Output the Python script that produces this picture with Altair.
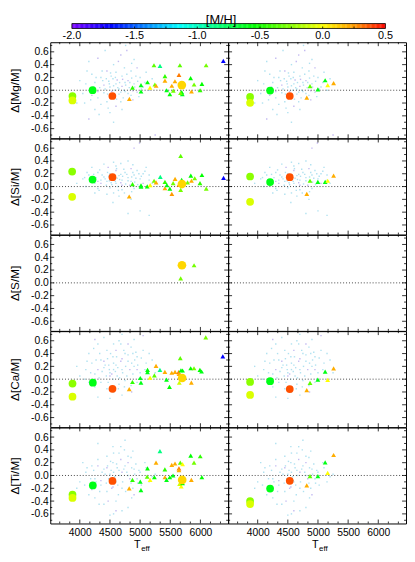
import altair as alt
import pandas as pd

# ------------------------------------------------------------------ data
ELEMENTS = ['Mg', 'Si', 'S', 'Ca', 'Ti']

X_LABELS = [4000, 4500, 5000, 5500, 6000]
X_MINOR = [3667, 3833, 4167, 4333, 4667, 4833, 5167, 5333, 5667, 5833, 6167, 6333]
Y_LABELS = [-0.6, -0.4, -0.2, 0.0, 0.2, 0.4, 0.6]
Y_MINOR = [-0.7, -0.5, -0.3, -0.1, 0.1, 0.3, 0.5, 0.7]

CB_LABEL_V = [-2.0, -1.5, -1.0, -0.5, 0.0, 0.5]
CB_LABEL_T = ['-2.0', '-1.5', '-1.0', '-0.5', '0.0', '0.5']
CB_TICKS = [-1.75, -1.5, -1.25, -1.0, -0.75, -0.5, -0.25, 0.0, 0.25]
CB_STOPS = [-2.0, -1.7, -1.15, -0.55, 0.0, 0.25, 0.5]
CB_COLORS = ['#7a00ff', '#0000ff', '#00ffff', '#00ff00', '#ffff00', '#ff9900', '#ff0000']

# background stars (Teff, delta, flag 0 = cyan, 1 = lavender)
DOTS_MG = [(4150,0.45,0),(4300,0.50,1),(4420,0.62,0),(4680,0.55,1),(4760,0.70,0),(4900,0.48,0),
           (4950,0.35,1),(4200,0.25,0),(4350,0.20,0),(4450,0.30,1),(4550,0.18,0),(4600,0.28,0),
           (4700,0.22,0),(4800,0.15,1),(4850,0.30,0),(4100,0.10,0),(4250,0.12,0),(4400,0.08,1),
           (4500,0.05,0),(4600,0.10,0),(4650,0.02,0),(4700,0.06,1),(4750,0.12,0),(4900,0.10,0),
           (5000,0.20,0),(5100,0.28,0),(5200,0.18,0),(4050,-0.05,0),(4200,-0.08,1),(4300,-0.12,0),
           (4400,-0.04,0),(4550,-0.10,1),(4650,-0.06,0),(4750,-0.02,0),(4850,-0.08,0),(4950,-0.03,1),
           (4350,-0.22,0),(4450,-0.18,0),(4600,-0.25,1),(4250,-0.30,0),(4150,-0.45,1),(4500,-0.35,0),
           (4700,-0.30,0),(5250,-0.70,1),(4000,0.15,0),(3950,-0.20,0),(4480,0.14,0),(4520,0.22,0),
           (4580,0.00,0),(4620,0.16,1),(4380,0.15,0),(4720,-0.12,0),(4820,0.04,0),(5050,0.05,0),
           (4420,0.02,0),(4440,0.18,0),(4460,-0.06,0),(4490,0.10,0),(4510,0.27,0),(4530,-0.02,1),
           (4560,0.07,0),(4590,0.20,0),(4610,-0.14,0),(4630,0.04,0),(4660,0.12,0),(4680,-0.03,0),
           (4710,0.17,1),(4730,0.00,0),(4760,0.08,0),(4780,0.25,0),(4800,-0.05,0),(4830,0.12,0),
           (4860,0.19,0),(4880,-0.01,1),(4910,0.05,0),(4930,0.22,0),(4960,0.14,0),(4980,-0.10,0),
           (5020,0.02,0),(4370,0.30,0),(4330,0.04,0),(4300,-0.02,1),(4270,0.20,0),(4230,0.05,0),
           (4180,-0.15,0),(4120,0.30,0),(4080,-0.20,0),(4560,0.40,0),(4640,0.45,1),(4740,0.35,0),
           (4860,0.42,0),(5080,0.12,0),(5150,0.00,0),(4470,-0.28,0),(4680,-0.18,0),(4880,-0.15,1),
           (4320,-0.38,0),(4560,-0.50,0),(4780,0.62,1)]
DOTS_SI = [(4050,0.12,0),(4150,0.18,0),(4250,0.05,0),(4300,0.22,0),(4350,0.10,0),(4400,0.15,0),
           (4450,0.08,0),(4500,0.20,0),(4550,0.12,0),(4600,0.05,0),(4650,0.17,0),(4700,0.10,0),
           (4750,0.22,0),(4800,0.14,0),(4850,0.08,0),(4900,0.18,0),(4950,0.25,0),(5000,0.12,0),
           (5050,0.20,0),(5100,0.30,0),(5150,0.10,0),(4200,0.30,0),(4400,0.35,0),(4600,0.32,0),
           (4800,0.40,0),(4900,0.60,1),(4990,0.68,1),(4100,0.00,0),(4300,-0.03,0),(4500,-0.02,0),
           (4700,-0.05,0),(4900,-0.03,0),(4450,-0.12,0),(4650,-0.15,0),(4850,-0.20,0),(4550,-0.25,0),
           (4800,-0.42,0),(5000,-0.38,0),(5150,-0.45,0),(4250,-0.10,0),(3950,0.05,0),(4350,0.05,1),
           (4600,0.25,1),(4700,0.02,1),(4850,0.28,1),(5050,0.05,1),(4480,0.16,0),(4520,0.06,0),
           (4620,0.13,0),(4680,0.19,0),
           (4420,0.12,0),(4440,0.02,0),(4460,0.22,0),(4490,0.09,0),(4510,0.14,1),(4530,0.03,0),
           (4560,0.18,0),(4590,0.08,0),(4610,0.28,0),(4630,0.00,0),(4660,0.11,0),(4680,0.06,1),
           (4710,0.16,0),(4730,0.27,0),(4760,0.04,0),(4780,0.19,0),(4800,0.09,0),(4830,0.02,1),
           (4860,0.15,0),(4880,0.22,0),(4910,0.07,0),(4930,0.13,0),(4960,0.03,0),(4980,0.20,0),
           (5020,0.16,0),(4370,0.18,0),(4330,0.26,0),(4300,0.08,1),(4270,0.14,0),(4230,0.19,0),
           (4180,0.08,0),(4120,0.22,0),(4080,0.14,0),(4560,0.38,0),(4640,-0.06,0),(4740,-0.10,0),
           (4860,-0.08,0),(5080,0.24,0),(5150,0.18,0),(4470,0.30,1),(4680,0.36,0),(4880,0.34,0),
           (4320,-0.06,0),(4560,-0.10,0),(5200,0.05,0)]
DOTS_S = []
DOTS_CA = [(4000,0.05,0),(4100,0.15,0),(4150,0.40,0),(4200,0.25,0),(4250,0.08,0),(4300,0.55,0),
           (4350,0.30,0),(4400,0.18,0),(4450,0.45,0),(4500,0.10,0),(4550,0.35,0),(4600,0.22,0),
           (4650,0.60,0),(4700,0.15,0),(4750,0.40,0),(4800,0.28,0),(4850,0.50,0),(4900,0.20,0),
           (4950,0.35,0),(5000,0.10,0),(5050,0.45,0),(5100,0.25,0),(5200,0.30,0),(4400,0.65,0),
           (4700,0.70,0),(4900,0.62,0),(4250,-0.12,0),(4350,-0.05,0),(4450,-0.15,0),(4550,0.00,0),
           (4650,-0.08,0),(4750,-0.02,0),(4850,-0.10,0),(4950,-0.05,0),(4500,-0.30,0),(4700,-0.25,0),
           (4300,-0.28,0),(4150,-0.05,0),(3950,0.20,0),(4600,0.45,1),(4400,0.28,1),(4800,0.55,1),
           (4500,0.05,1),(4250,0.62,1),(4950,0.15,1),(4700,0.32,1),(5050,0.68,1),(4480,0.22,0),
           (4560,0.15,0),(4620,0.05,0),
           (4420,0.22,0),(4440,0.05,0),(4460,0.32,0),(4490,0.15,0),(4510,0.40,0),(4530,0.08,1),
           (4560,0.25,0),(4590,0.12,0),(4610,0.35,0),(4630,0.18,0),(4660,0.02,0),(4680,0.28,1),
           (4710,0.10,0),(4730,0.45,0),(4760,0.20,0),(4780,0.05,0),(4800,0.38,0),(4830,0.15,1),
           (4860,0.25,0),(4880,0.08,0),(4910,0.30,0),(4930,0.42,0),(4960,0.22,0),(4980,0.00,0),
           (5020,0.33,0),(4370,0.12,0),(4330,0.40,0),(4300,0.15,1),(4270,0.30,0),(4230,0.48,0),
           (4180,0.10,0),(4120,0.28,0),(4080,0.00,0),(4560,0.55,0),(4640,-0.15,0),(4740,-0.12,0),
           (4860,-0.20,1),(5080,0.15,0),(5150,0.40,0),(4470,-0.05,0),(4680,0.55,0),(4880,0.40,0),
           (4320,0.02,0),(4560,-0.20,0),(5250,0.10,0)]
DOTS_TI = [(4000,-0.10,0),(4100,0.05,0),(4150,-0.30,0),(4200,0.15,0),(4250,-0.05,0),(4300,0.25,0),
           (4350,-0.15,0),(4400,0.10,0),(4450,-0.25,0),(4500,0.02,0),(4550,0.20,0),(4600,-0.10,0),
           (4650,0.08,0),(4700,-0.20,0),(4750,0.15,0),(4800,0.00,0),(4850,-0.12,0),(4900,0.10,0),
           (4950,-0.05,0),(5000,0.05,0),(5100,0.12,0),(5200,-0.02,0),(4300,0.50,0),(4550,0.45,0),
           (4750,0.55,0),(4400,-0.45,0),(4600,-0.40,0),(4800,-0.50,0),(4500,-0.62,0),(4700,-0.55,0),
           (4250,-0.35,0),(3950,-0.20,0),(4050,0.20,0),(4450,0.30,0),(4650,0.35,0),(4850,0.28,0),
           (4350,-0.08,1),(4550,-0.18,1),(4700,0.05,1),(4200,-0.22,1),(4900,-0.30,1),(4450,0.12,1),
           (4600,-0.55,1),(4800,0.20,1),(4480,-0.05,0),(4520,0.08,0),(4580,-0.02,0),(4620,0.12,0),
           (4420,0.02,0),(4440,-0.12,0),(4460,0.15,0),(4490,-0.05,0),(4510,0.22,0),(4530,-0.20,1),
           (4560,0.05,0),(4590,-0.08,0),(4610,0.18,0),(4630,-0.15,0),(4660,0.00,0),(4680,0.25,1),
           (4710,-0.10,0),(4730,0.10,0),(4760,-0.25,0),(4780,0.05,0),(4800,0.30,0),(4830,-0.05,1),
           (4860,0.12,0),(4880,-0.20,0),(4910,0.02,0),(4930,0.18,0),(4960,-0.12,0),(4980,0.08,0),
           (5020,-0.15,0),(4370,0.05,0),(4330,-0.25,0),(4300,0.15,1),(4270,-0.10,0),(4230,0.08,0),
           (4180,-0.05,0),(4120,0.12,0),(4080,-0.15,0),(4560,0.35,0),(4640,-0.30,0),(4740,0.40,0),
           (4860,-0.35,0),(5080,0.20,0),(5150,-0.10,0),(4470,-0.40,1),(4680,0.45,0),(4880,0.38,0),
           (4320,-0.45,0),(4560,-0.60,0),(5250,0.02,0)]

# dwarf triangles (Teff, delta, [M/H])
MG_D_TRI = [(6380,0.46,-1.7),(5230,0.39,-0.35),(5330,0.38,-0.85),(5660,0.39,-0.35),(6095,0.39,-0.3),
            (5412,0.22,-0.45),(5645,0.24,0.3),(5838,0.19,-0.55),(5412,0.15,0.2),(5578,0.14,0.2),
            (5526,0.07,0.2),(5245,0.09,-0.3),(5265,0.07,0.2),(5123,0.125,-0.55),(5015,0.08,-0.6),
            (4874,0.04,-0.45),(5165,0.04,0.0),(5015,-0.02,-0.6),(5440,0.0,-0.6),(5493,-0.06,-0.55),
            (5550,-0.005,-0.3),(5690,-0.03,-0.55),(5700,-0.06,-0.6),(5670,-0.04,-0.3),(5852,-0.02,0.2),
            (5995,0.0,-0.45),(6025,0.1,-0.55),(5895,0.09,-0.3),(4822,-0.135,0.2)]
SI_D_TRI = [(4819,-0.156,0.2),(4874,0.039,-0.45),(5015,0.019,-0.6),(5015,0.0,-0.6),(5118,0.004,-0.55),
            (5167,0.023,0.0),(5232,0.09,-0.3),(5265,0.065,0.2),(5335,0.151,-0.85),(5412,0.074,-0.45),
            (5412,-0.027,0.2),(5444,0.023,-0.6),(5493,-0.033,-0.55),(5526,-0.115,0.25),(5548,0.054,-0.3),
            (5580,0.12,0.2),(5645,0.028,0.3),(5673,0.48,-0.35),(5673,-0.053,-0.3),(5689,0.105,-0.6),
            (5787,0.065,-0.3),(5841,0.172,-0.55),(5852,0.09,0.2),(5906,0.13,-0.3),(5993,0.054,-0.45),
            (6025,0.18,-0.55),(6097,-0.033,-0.3),(6384,0.136,-1.7)]
S_D_TRI = [(5895,0.275,-0.3),(5673,0.07,-0.3)]
CA_D_TRI = [(6089,0.653,-0.3),(6372,0.356,-1.7),(5666,0.33,-0.35),(5264,0.207,0.2),(5329,0.146,-0.85),
            (5123,0.146,-0.55),(5123,0.11,-0.6),(5411,0.115,0.2),(5237,0.059,-0.35),(5166,0.023,0.0),
            (4873,-0.044,-0.45),(5003,0.018,-0.6),(5014,-0.054,-0.6),(4819,-0.156,0.2),(5438,-0.008,-0.6),
            (5487,-0.12,-0.55),(5525,0.1,0.2),(5579,0.115,0.2),(5639,0.11,0.3),(5645,0.084,0.2),
            (5677,0.14,-0.6),(5704,0.135,-0.55),(5650,-0.054,-0.1),(5839,0.171,-0.55),(5894,0.171,-0.3),
            (5850,-0.054,0.2),(5992,0.146,-0.55),(6019,0.12,-0.6)]
TI_D_TRI = [(5329,0.381,-0.85),(5839,0.31,-0.55),(5997,0.30,-0.45),(5894,0.202,-0.3),(5666,0.202,-0.35),
            (5264,0.202,0.2),(5579,0.187,0.2),(5525,0.166,0.2),(5644,0.11,0.3),(5644,0.084,0.2),
            (5704,0.177,0.0),(5123,0.11,-0.55),(5411,0.095,-0.45),(4873,-0.069,-0.45),(5003,-0.095,-0.6),
            (5014,-0.228,-0.6),(4819,-0.202,0.2),(5117,-0.018,-0.35),(5166,-0.069,0.0),(5237,-0.028,-0.55),
            (5411,-0.028,0.2),(5438,-0.069,-0.6),(5492,-0.028,-0.55),(5546,0.0,-0.6),(5655,-0.13,-0.1),
            (5682,-0.17,0.0),(5704,-0.12,-0.55),(5850,-0.069,0.2),(6024,-0.028,-0.55)]

# dwarf circles (Teff, delta, [M/H], big flag)
MG_D_CIR = [(3878,-0.09,-0.25,0),(3878,-0.16,-0.08,0),(4212,0.0,-0.6,0),(4540,-0.09,0.37,0),(5692,0.08,0.1,1)]
SI_D_CIR = [(3873,0.234,-0.25,0),(3873,-0.16,-0.08,0),(4211,0.11,-0.6,0),(4542,0.146,0.37,0),(5694,0.039,0.1,1)]
S_D_CIR = [(5694,0.275,0.1,1)]
CA_D_CIR = [(3879,-0.069,-0.25,0),(3879,-0.274,-0.08,0),(4216,-0.054,-0.6,0),(4542,-0.151,0.37,0),(5698,0.018,0.1,1)]
TI_D_CIR = [(3879,-0.30,-0.25,0),(3879,-0.35,-0.08,0),(4216,-0.156,-0.6,0),(4542,-0.085,0.37,0),(5698,-0.069,0.1,1)]

# giant triangles and circles
MG_G_TRI = [(4814,-0.115,0.2),(4868,0.063,-0.35),(4998,0.013,-0.6),(5119,0.156,-0.6),(5161,0.079,0.0),(5259,0.11,0.2)]
SI_G_TRI = [(4814,-0.115,0.2),(4868,0.09,-0.35),(4998,0.074,-0.6),(5119,0.074,-0.6),(5161,0.09,0.0),(5259,0.17,0.2)]
S_G_TRI = []
CA_G_TRI = [(4814,-0.17,0.2),(4868,-0.058,-0.35),(4998,-0.006,-0.6),(5119,0.117,-0.6),(5161,-0.012,0.0),(5259,0.168,0.2)]
TI_G_TRI = [(4814,-0.155,0.2),(4868,-0.01,-0.35),(4998,-0.01,-0.6),(5119,0.205,-0.6),(5161,0.04,0.0),(5259,0.32,0.2)]
MG_G_CIR = [(3874,-0.105,-0.25,0),(3874,-0.197,-0.08,0),(4206,-0.005,-0.6,0),(4532,-0.09,0.37,0)]
SI_G_CIR = [(3874,0.157,-0.25,0),(3874,-0.238,-0.08,0),(4206,0.07,-0.6,0),(4532,0.146,0.37,0)]
S_G_CIR = []
CA_G_CIR = [(3874,-0.043,-0.25,0),(3874,-0.247,-0.08,0),(4206,-0.032,-0.6,0),(4532,-0.155,0.37,0)]
TI_G_CIR = [(3874,-0.40,-0.25,0),(3874,-0.447,-0.08,0),(4206,-0.205,-0.6,0),(4532,-0.083,0.37,0)]

DOTS = [DOTS_MG, DOTS_SI, DOTS_S, DOTS_CA, DOTS_TI]
TRI = [[MG_D_TRI, MG_G_TRI], [SI_D_TRI, SI_G_TRI], [S_D_TRI, S_G_TRI], [CA_D_TRI, CA_G_TRI], [TI_D_TRI, TI_G_TRI]]
CIR = [[MG_D_CIR, MG_G_CIR], [SI_D_CIR, SI_G_CIR], [S_D_CIR, S_G_CIR], [CA_D_CIR, CA_G_CIR], [TI_D_CIR, TI_G_CIR]]

# ------------------------------------------------------------------ layout
W, H = 181, 97.7
XDOM = [3510, 6460]
YDOM = [-0.75, 0.75]
FONT = 'Liberation Sans'
CSCALE = alt.Scale(domain=CB_STOPS, range=CB_COLORS, interpolate='rgb')
# colour bar drawn above the top-left panel, own x scale (pixels 71..390 of page)
CB_PX = 127.6
CB_L = -2.0 - 22 / CB_PX
CB_R = CB_L + W / CB_PX
CBX = alt.Scale(domain=[CB_L, CB_R], nice=False, zero=False)
MAJ, MIN = 4, 2


def tick_layers(X, Y):
    out = []
    for vals, L in [(X_LABELS, MAJ), (X_MINOR, MIN)]:
        base = alt.Chart(pd.DataFrame({'x': vals})).mark_rule(color='black', strokeWidth=0.8)
        out.append(base.encode(x=X, y=alt.value(H), y2=alt.value(H - L)))
        out.append(base.encode(x=X, y=alt.value(0), y2=alt.value(L)))
    for vals, L in [(Y_LABELS, MAJ), (Y_MINOR, MIN)]:
        base = alt.Chart(pd.DataFrame({'y': vals})).mark_rule(color='black', strokeWidth=0.8)
        out.append(base.encode(y=Y, x=alt.value(0), x2=alt.value(L)))
        out.append(base.encode(y=Y, x=alt.value(W), x2=alt.value(W - L)))
    return out


def colorbar_layers():
    ramp = [round(-2.0 + 0.01 * i, 2) for i in range(250)]
    cb = pd.DataFrame({'v': ramp, 'v2': [r + 0.012 for r in ramp]})
    Xc = alt.X('v:Q', scale=CBX, axis=None)
    layers = [
        alt.Chart(cb).mark_rect(strokeWidth=0).encode(
            x=Xc, x2='v2:Q', y=alt.value(-19), y2=alt.value(-14),
            color=alt.Color('v:Q', scale=CSCALE, legend=None)),
        alt.Chart(pd.DataFrame({'v': [-2.0], 'v2': [0.5]})).mark_rect(
            fillOpacity=0, stroke='black', strokeWidth=0.8).encode(
            x=Xc, x2='v2:Q', y=alt.value(-19), y2=alt.value(-14)),
        alt.Chart(pd.DataFrame({'v': CB_TICKS})).mark_rule(color='black', strokeWidth=0.8).encode(
            x=Xc, y=alt.value(-16), y2=alt.value(-14)),
        alt.Chart(pd.DataFrame({'v': CB_LABEL_V, 't': CB_LABEL_T})).mark_text(
            fontSize=11, baseline='middle', align='center').encode(
            x=Xc, y=alt.value(-6.5), text='t:N'),
        alt.Chart(pd.DataFrame({'v': [-0.81], 't': ['[M/H]']})).mark_text(
            fontSize=13, baseline='top', align='center').encode(
            x=Xc, y=alt.value(-29), text='t:N'),
    ]
    return layers


def panel(r, c):
    el = ELEMENTS[r]
    xaxis = alt.Axis(values=X_LABELS, format='d', ticks=False, domain=False, grid=False,
                     title=None, labelFontSize=10.5, labelPadding=4) if r == 4 else None
    yaxis = alt.Axis(values=Y_LABELS,
                     labelExpr="replace(format(datum.value, '.1f'), '\u2212', '-')",
                     ticks=False, domain=False, grid=False, title=f'\u0394[{el}/M]',
                     titleFontSize=12, titleFontWeight='normal', labelFontSize=10.5,
                     labelPadding=2, titlePadding=9) if c == 0 else None
    X = alt.X('x:Q', scale=alt.Scale(domain=XDOM, nice=False, zero=False), axis=xaxis)
    Y = alt.Y('y:Q', scale=alt.Scale(domain=YDOM, nice=False, zero=False), axis=yaxis)

    layers = []
    dots = DOTS[r]
    if dots:
        dd = pd.DataFrame(dots, columns=['x', 'y', 'f'])
        layers.append(alt.Chart(dd[dd.f == 0]).mark_square(size=2, color='#a6deee', opacity=0.9)
                      .encode(x=X, y=Y))
        layers.append(alt.Chart(dd[dd.f == 1]).mark_square(size=2, color='#bcb2f0', opacity=0.9)
                      .encode(x=X, y=Y))
    layers.append(alt.Chart(pd.DataFrame({'y': [0.0]})).mark_rule(
        color='#444444', strokeDash=[1, 2], strokeWidth=1).encode(y=Y))
    tri = TRI[r][c]
    if tri:
        td = pd.DataFrame(tri, columns=['x', 'y', 'mh'])
        layers.append(alt.Chart(td).mark_point(shape='triangle-up', filled=True, size=24, opacity=1)
                      .encode(x=X, y=Y, color=alt.Color('mh:Q', scale=CSCALE, legend=None)))
    cir = CIR[r][c]
    if cir:
        cd = pd.DataFrame(cir, columns=['x', 'y', 'mh', 'big'])
        cd['sz'] = [78 if b else 62 for b in cd.big]
        layers.append(alt.Chart(cd).mark_circle(opacity=1)
                      .encode(x=X, y=Y, color=alt.Color('mh:Q', scale=CSCALE, legend=None),
                              size=alt.Size('sz:Q', scale=None, legend=None)))
    layers += tick_layers(X, Y)
    if r == 4:
        layers.append(alt.Chart(pd.DataFrame({'t': ['T']})).mark_text(
            fontSize=11, align='right', baseline='alphabetic').encode(
            x=alt.value(92), y=alt.value(H + 25), text='t:N'))
        layers.append(alt.Chart(pd.DataFrame({'t': ['eff']})).mark_text(
            fontSize=8, align='left', baseline='alphabetic').encode(
            x=alt.value(92.5), y=alt.value(H + 28), text='t:N'))
    ch = alt.layer(*layers).properties(width=W, height=H)
    if r == 0 and c == 0:
        ch = alt.layer(ch, *colorbar_layers()).resolve_scale(x='independent').properties(
            width=W, height=H)
    return ch


panels = [panel(r, c) for r in range(5) for c in range(2)]

chart = alt.concat(*panels, columns=2, spacing=0, bounds='flush').properties(
    padding={'left': 0, 'top': 0, 'right': 0, 'bottom': 0}
).configure_view(stroke='black', strokeWidth=1).configure_axis(
    labelFont=FONT, titleFont=FONT, labelColor='black', titleColor='black'
).configure_text(font=FONT, color='black')

chart.save("out.html", embed_options={"renderer": "svg", "actions": False})
